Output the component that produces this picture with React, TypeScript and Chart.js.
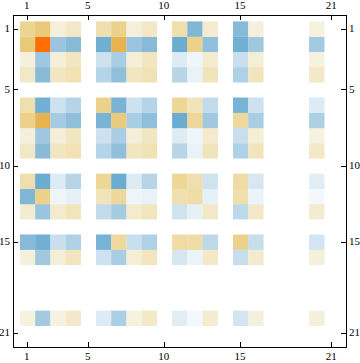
import React, { useEffect, useRef } from "react";
import { Chart, registerables } from "chart.js";

Chart.register(...registerables);

const rowLabels = [1, 2, 3, 4, 6, 7, 8, 9, 11, 12, 13, 15, 16, 20];
const colLabels = [1, 2, 3, 4, 6, 7, 8, 9, 11, 12, 13, 15, 16, 20];
const tickValues = [1, 5, 10, 15, 21];

const row1 = [0.38, 0.46, 0.1, 0.18, 0.3, 0.41, 0.1, 0.18, 0.3, -0.53, 0.14, -0.51, 0.1, 0.09];
const row2 = [0.46, 1, -0.42, -0.5, -0.585, 0.6, -0.42, -0.5, -0.6, 0.41, -0.47, -0.58, -0.395, -0.385];
const row3 = [0.1, -0.4, 0.11, 0.2, -0.18, -0.35, 0.11, 0.2, -0.1, -0.05, 0.15, -0.2, 0.12, 0.09];
const row4 = [0.18, -0.5, 0.2, 0.27, -0.29, -0.47, 0.2, 0.26, -0.28, -0.07, 0.23, -0.32, 0.21, 0.17];
const row6 = [0.3, -0.58, -0.18, -0.29, 0.4, -0.55, -0.18, -0.29, 0.37, 0.23, -0.23, -0.56, -0.18, -0.1];
const row7 = [0.41, 0.6, -0.37, -0.47, -0.55, 0.45, -0.35, -0.47, -0.6, 0.36, -0.395, 0.35, -0.35, -0.33];
const row8 = [0.1, -0.4, 0.11, 0.2, -0.18, -0.35, 0.11, 0.2, -0.1, -0.05, 0.15, -0.2, 0.12, 0.09];
const row9 = [0.18, -0.5, 0.2, 0.27, -0.29, -0.47, 0.2, 0.26, -0.28, -0.07, 0.23, -0.32, 0.21, 0.17];
const row11 = [0.3, -0.6, -0.1, -0.28, 0.37, -0.6, -0.1, -0.28, 0.37, 0.3, -0.17, 0.33, -0.13, -0.09];
const row12 = [-0.53, 0.41, -0.05, -0.075, 0.23, 0.36, -0.05, -0.07, 0.3, 0.32, -0.075, 0.3, -0.06, -0.04];
const row13 = [0.14, -0.42, 0.15, 0.22, -0.23, -0.37, 0.15, 0.22, -0.17, -0.075, 0.18, -0.26, 0.17, 0.14];
const row15 = [-0.51, -0.58, -0.2, -0.32, -0.56, 0.35, -0.2, -0.32, 0.33, 0.32, -0.26, 0.4, -0.21, -0.15];
const row16 = [0.1, -0.395, 0.12, 0.21, -0.18, -0.35, 0.12, 0.21, -0.13, -0.06, 0.17, -0.21, 0.15, 0.1];
const row20 = [0.09, -0.385, 0.09, 0.17, -0.1, -0.34, 0.09, 0.17, -0.09, -0.04, 0.14, -0.15, 0.1, 0.1];
const rows = [row1, row2, row3, row4, row6, row7, row8, row9, row11, row12, row13, row15, row16, row20];

const colorStops: [number, number[]][] = [
  [-0.6, [0x6b, 0xad, 0xd0]],
  [-0.5, [0x89, 0xbb, 0xd9]],
  [-0.4, [0x9f, 0xc8, 0xe0]],
  [-0.3, [0xb3, 0xd3, 0xe6]],
  [-0.2, [0xc9, 0xdf, 0xed]],
  [-0.1, [0xdd, 0xeb, 0xf4]],
  [-0.05, [0xef, 0xf6, 0xfa]],
  [0, [0xff, 0xff, 0xff]],
  [0.1, [0xf5, 0xf0, 0xdc]],
  [0.2, [0xf2, 0xe6, 0xc0]],
  [0.3, [0xf0, 0xdf, 0xae]],
  [0.4, [0xeb, 0xd2, 0x8c]],
  [0.6, [0xe5, 0xb4, 0x4f]],
  [1, [0xff, 0x6d, 0x05]],
];

function valueColor(v: number): string {
  for (let i = 1; i < colorStops.length; i++) {
    const [v0, c0] = colorStops[i - 1];
    const [v1, c1] = colorStops[i];
    if (v <= v1) {
      const t = (v - v0) / (v1 - v0);
      const c = c0.map((a, k) => Math.round(a + (c1[k] - a) * t));
      return `rgb(${c[0]},${c[1]},${c[2]})`;
    }
  }
  return "rgb(255,109,5)";
}

const X_MIN = 0.04;
const X_MAX = 21.92;
const Y_MIN = 0.073;
const Y_MAX = 21.886;
const font = { family: "'Liberation Serif'", size: 11 };

function sideScale(position: string, axis: string, size: number, padding: number, extra: any = {}) {
  return {
    type: "linear",
    position,
    axis,
    min: axis === "x" ? X_MIN : Y_MIN,
    max: axis === "x" ? X_MAX : Y_MAX,
    grid: { display: true, drawOnChartArea: false, drawTicks: true, tickLength: -5, color: "#000", lineWidth: 1 },
    border: { display: true, color: "#000", width: 1 },
    ticks: { autoSkip: false, maxRotation: 0, padding, color: "#000", font, labelOffset: axis === "x" ? -0.8 : 0 },
    afterBuildTicks: (s: any) => {
      s.ticks = tickValues.map((value) => ({ value }));
    },
    afterFit: (s: any) => {
      if (axis === "x") s.height = size;
      else s.width = size;
    },
    ...extra,
  };
}

const whiteBackground = {
  id: "whiteBackground",
  beforeDraw(chart: any) {
    const { ctx, width, height } = chart;
    ctx.save();
    ctx.fillStyle = "#fff";
    ctx.fillRect(0, 0, width, height);
    ctx.restore();
  },
};

export default function App() {
  const ref = useRef<HTMLCanvasElement>(null);
  useEffect(() => {
    document.body.style.margin = "0";
    const canvas = ref.current as HTMLCanvasElement;
    canvas.getContext("2d", { alpha: false });
    const chart = new Chart(canvas, {
      type: "scatter",
      plugins: [whiteBackground],
      data: {
        datasets: rows.map((vals, r) => ({
          label: `row ${rowLabels[r]}`,
          xAxisID: "x",
          yAxisID: "y",
          data: vals.map((_, c) => ({ x: colLabels[c], y: rowLabels[r] })),
          backgroundColor: vals.map(valueColor),
          pointStyle: "rect",
          pointRadius: 10.9,
          pointBorderWidth: 0,
          borderWidth: 0,
        })),
      },
      options: {
        animation: false,
        responsive: false,
        layout: { padding: 0 },
        plugins: { legend: { display: false }, tooltip: { enabled: false } },
        scales: {
          x: sideScale("bottom", "x", 16, 9),
          x2: sideScale("top", "x", 15, 7),
          y: sideScale("left", "y", 13, 8, { reverse: true }),
          y2: sideScale("right", "y", 14, 8, { reverse: true }),
        } as any,
      },
    } as any);
    return () => chart.destroy();
  }, []);
  return <canvas ref={ref} width={360} height={363} style={{ display: "block" }} />;
}
